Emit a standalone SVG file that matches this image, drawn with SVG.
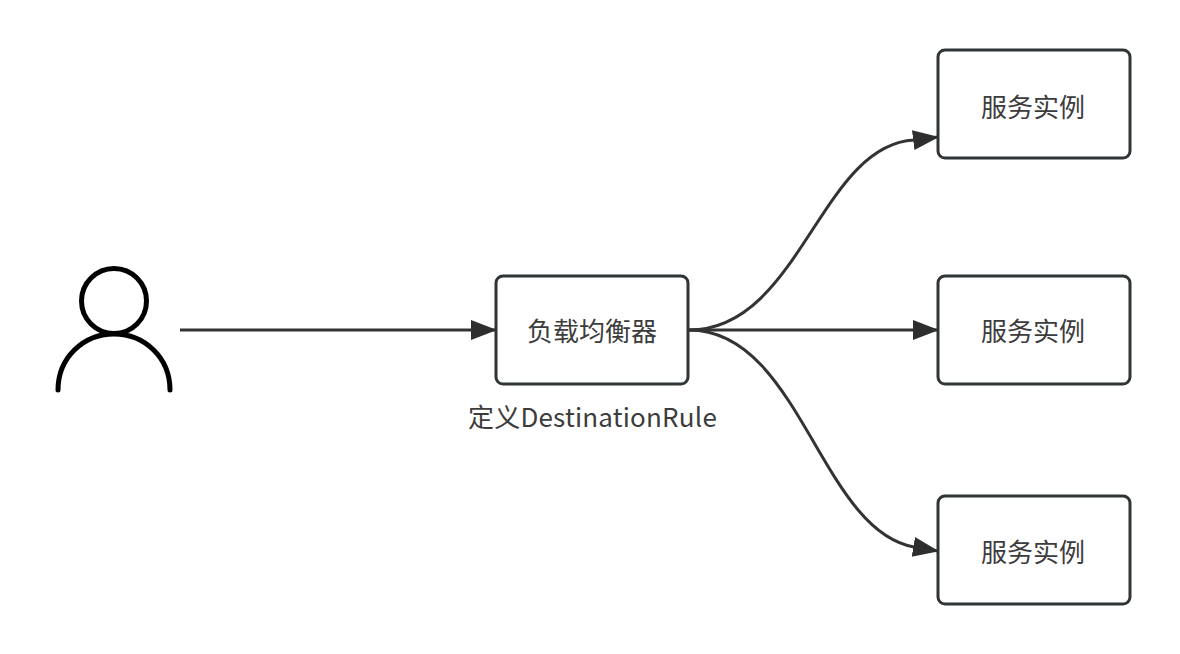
<svg xmlns="http://www.w3.org/2000/svg" width="1180" height="654" viewBox="0 0 1180 654">
<style>
.box{fill:#fff;stroke:#2f3437;stroke-width:3}
.t{font-family:"Noto Sans CJK SC","Noto Sans",sans-serif;font-size:26px;fill:#3c3c3c;text-anchor:middle}
.c{fill:none;stroke:#333;stroke-width:3}
.p{fill:none;stroke:#000;stroke-width:5;stroke-linecap:round}
</style>
<defs>
<marker id="arrow" markerUnits="userSpaceOnUse" markerWidth="27" markerHeight="22" refX="25" refY="10" orient="auto"><path d="M0 0L26 10L0 20Z" fill="#2e2e2e"/></marker>
</defs>
<rect width="1180" height="654" fill="#fff"/>
<g id="connectors">
<path class="c" d="M180 330H496" marker-end="url(#arrow)"/>
<path class="c" d="M689 330C800 330 820 145 914 140L938 137" marker-end="url(#arrow)"/>
<path class="c" d="M689 330H938" marker-end="url(#arrow)"/>
<path class="c" d="M689 330C800 330 820 530 914 547L938 551" marker-end="url(#arrow)"/>
</g>
<g id="user">
<circle class="p" cx="114" cy="301" r="32.500"/>
<path class="p" d="M58 390C58 358 83 334 114 334C145 334 170 358 170 390"/>
</g>
<g id="lb">
<rect class="box" x="496" y="276" width="192" height="108" rx="7"/>
<text class="t" x="592" y="341">负载均衡器</text>
<text class="t" x="592.500" y="427" letter-spacing="0.2">定义DestinationRule</text>
</g>
<g id="svc1">
<rect class="box" x="938" y="50" width="192" height="108" rx="7"/>
<text class="t" x="1033" y="117">服务实例</text>
</g>
<g id="svc2">
<rect class="box" x="938" y="276" width="192" height="108" rx="7"/>
<text class="t" x="1033" y="341">服务实例</text>
</g>
<g id="svc3">
<rect class="box" x="938" y="496" width="192" height="108" rx="7"/>
<text class="t" x="1033" y="562">服务实例</text>
</g>
</svg>
